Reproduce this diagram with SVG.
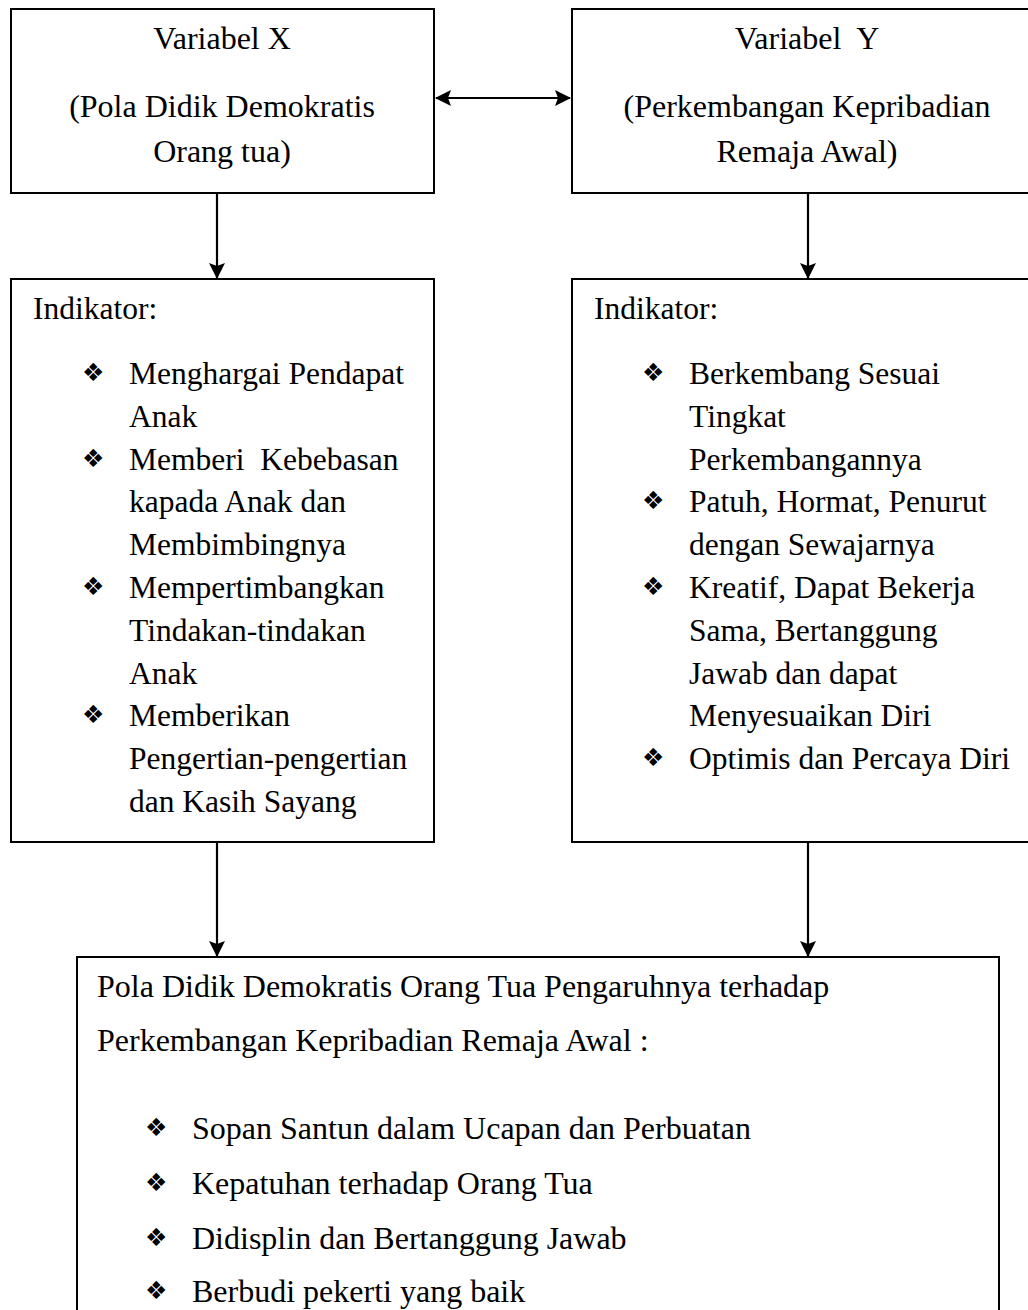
<svg xmlns="http://www.w3.org/2000/svg" width="1028" height="1310" viewBox="0 0 1028 1310">
<style>
.box{fill:#fff;stroke:#000;stroke-width:2}
.t{font-family:"Liberation Serif","Times New Roman",serif;font-size:31.5px;fill:#000;white-space:pre}
.L{font-size:32px}
.c{text-anchor:middle}
.b{font-family:"DejaVu Sans",sans-serif;font-size:25px;fill:#000}
.ln{stroke:#000;stroke-width:2.2;fill:none}
</style>
<defs>
<marker id="ah" viewBox="0 0 16 16" refX="15" refY="8" markerWidth="16" markerHeight="16" markerUnits="userSpaceOnUse" orient="auto-start-reverse">
<path d="M0,0 L16,8 L0,16 L3,8 Z" fill="#000"/>
</marker>
</defs>
<rect width="1028" height="1310" fill="#fff"/>
<g id="varX">
<rect class="box" x="11" y="9" width="423" height="184"/>
<text class="t L c" x="222" y="49">Variabel X</text>
<text class="t L c" x="222" y="117">(Pola Didik Demokratis</text>
<text class="t L c" x="222" y="162">Orang tua)</text>
</g>
<g id="varY">
<rect class="box" x="572" y="9" width="470" height="184"/>
<text class="t L c" x="807" y="49">Variabel  Y</text>
<text class="t L c" x="807" y="117">(Perkembangan Kepribadian</text>
<text class="t L c" x="807" y="162">Remaja Awal)</text>
</g>
<g id="indX">
<rect class="box" x="11" y="279" width="423" height="563"/>
<text class="t" x="33" y="319">Indikator:</text>
<text class="b" x="82" y="381">❖</text>
<text class="t" x="129" y="384">Menghargai Pendapat</text>
<text class="t" x="129" y="427">Anak</text>
<text class="b" x="82" y="467">❖</text>
<text class="t" x="129" y="470">Memberi  Kebebasan</text>
<text class="t" x="129" y="512">kapada Anak dan</text>
<text class="t" x="129" y="555">Membimbingnya</text>
<text class="b" x="82" y="595">❖</text>
<text class="t" x="129" y="598">Mempertimbangkan</text>
<text class="t" x="129" y="641">Tindakan-tindakan</text>
<text class="t" x="129" y="684">Anak</text>
<text class="b" x="82" y="723">❖</text>
<text class="t" x="129" y="726">Memberikan</text>
<text class="t" x="129" y="769">Pengertian-pengertian</text>
<text class="t" x="129" y="812">dan Kasih Sayang</text>
</g>
<g id="indY">
<rect class="box" x="572" y="279" width="470" height="563"/>
<text class="t" x="594" y="319">Indikator:</text>
<text class="b" x="642" y="381">❖</text>
<text class="t" x="689" y="384">Berkembang Sesuai</text>
<text class="t" x="689" y="427">Tingkat</text>
<text class="t" x="689" y="470">Perkembangannya</text>
<text class="b" x="642" y="509">❖</text>
<text class="t" x="689" y="512">Patuh, Hormat, Penurut</text>
<text class="t" x="689" y="555">dengan Sewajarnya</text>
<text class="b" x="642" y="595">❖</text>
<text class="t" x="689" y="598">Kreatif, Dapat Bekerja</text>
<text class="t" x="689" y="641">Sama, Bertanggung</text>
<text class="t" x="689" y="684">Jawab dan dapat</text>
<text class="t" x="689" y="726">Menyesuaikan Diri</text>
<text class="b" x="642" y="766">❖</text>
<text class="t" x="689" y="769">Optimis dan Percaya Diri</text>
</g>
<g id="result">
<rect class="box" x="77" y="957" width="922" height="370"/>
<text class="t L" x="97" y="997">Pola Didik Demokratis Orang Tua Pengaruhnya terhadap</text>
<text class="t L" x="97" y="1051">Perkembangan Kepribadian Remaja Awal :</text>
<text class="b" x="145" y="1136">❖</text>
<text class="t L" x="192" y="1139">Sopan Santun dalam Ucapan dan Perbuatan</text>
<text class="b" x="145" y="1191">❖</text>
<text class="t L" x="192" y="1194">Kepatuhan terhadap Orang Tua</text>
<text class="b" x="145" y="1246">❖</text>
<text class="t L" x="192" y="1249">Didisplin dan Bertanggung Jawab</text>
<text class="b" x="145" y="1299">❖</text>
<text class="t L" x="192" y="1302">Berbudi pekerti yang baik</text>
</g>
<g id="connectors">
<line class="ln" x1="436" y1="98" x2="570" y2="98" marker-start="url(#ah)" marker-end="url(#ah)"/>
<line class="ln" x1="217" y1="193" x2="217" y2="278" marker-end="url(#ah)"/>
<line class="ln" x1="808" y1="193" x2="808" y2="278" marker-end="url(#ah)"/>
<line class="ln" x1="217" y1="842" x2="217" y2="956" marker-end="url(#ah)"/>
<line class="ln" x1="808" y1="842" x2="808" y2="956" marker-end="url(#ah)"/>
</g>
</svg>
